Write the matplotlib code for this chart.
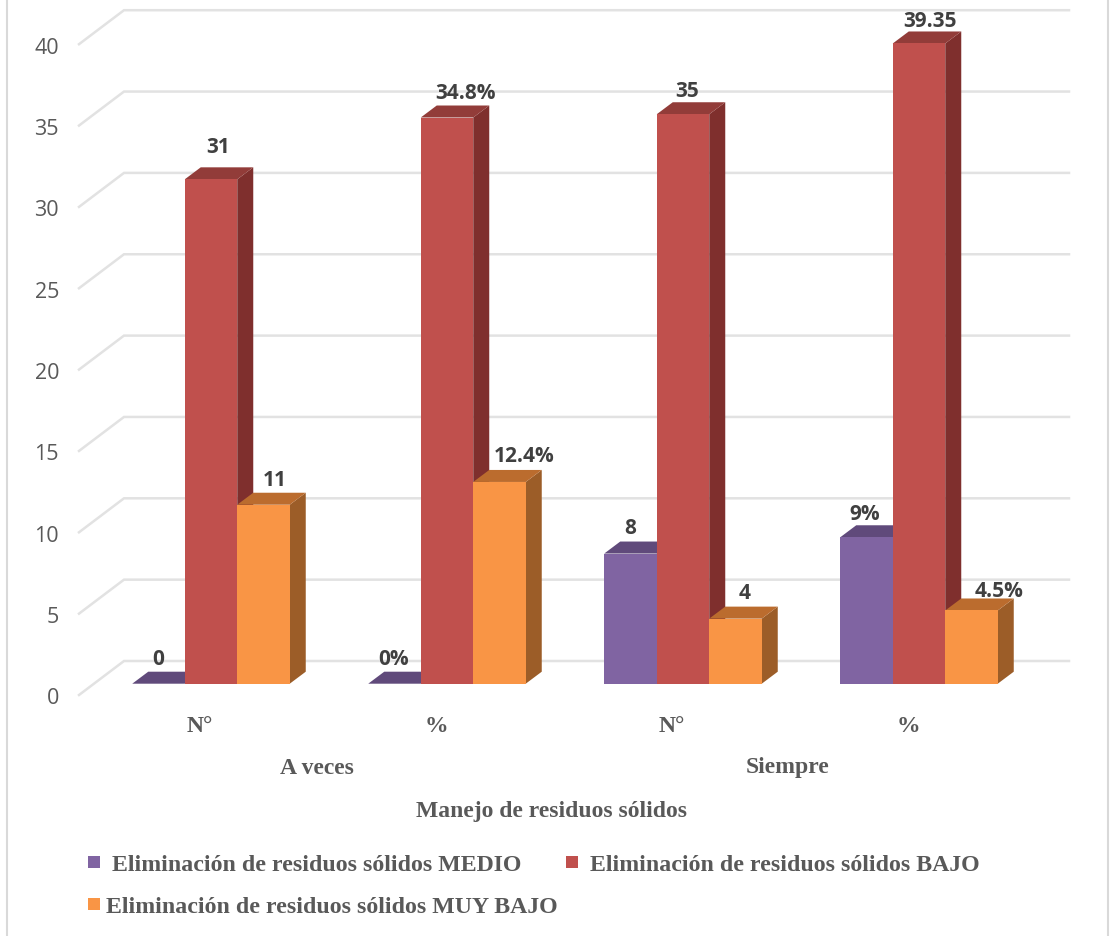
import matplotlib
matplotlib.use("Agg")
import matplotlib.pyplot as plt
from matplotlib.patches import Polygon, Rectangle

# values per category
sub_categories = ["N°", "%", "N°", "%"]
main_categories = ["A veces", "Siempre"]
x_title = "Manejo de residuos sólidos"
medio = [0, 0, 8, 9]
bajo = [31, 34.8, 35, 39.35]
muy_bajo = [11, 12.4, 4, 4.5]
medio_labels = ["0", "0%", "8", "9%"]
bajo_labels = ["31", "34.8%", "35", "39.35"]
muy_bajo_labels = ["11", "12.4%", "4", "4.5%"]
y_ticks = [0, 5, 10, 15, 20, 25, 30, 35, 40]
legend_names = ["Eliminación de residuos sólidos MEDIO",
                "Eliminación de residuos sólidos BAJO",
                "Eliminación de residuos sólidos MUY BAJO"]

W, H = 1112, 937
PX_X = 236.0    # pixels per category
PX_Y = 16.27    # pixels per value unit
X0, Y0 = 211.0, 684.7   # pixel of first category centre / value 0
BAR_W = 52.5 / PX_X
DEPTH_X, DEPTH_Y = 16 / PX_X, 12 / PX_Y
GRID_BACK_X, GRID_BACK_Y = 124, 662
GRID_FRONT_X, GRID_FRONT_Y = 79, 696
GRID_END_X = 1069

TEXT_GRAY = "#595959"
LABEL_GRAY = "#404040"
SERIF = "Liberation Serif"
SANS = "Open Sans"

fig = plt.figure(figsize=(W / 100, H / 100), dpi=100)
ax = fig.add_axes([0, 0, 1, 1])
ax.set_xlim(-X0 / PX_X, (W - X0) / PX_X)
ax.set_ylim((Y0 - H) / PX_Y, Y0 / PX_Y)
ax.axis("off")


def px_x(x):
    return (x - X0) / PX_X


def px_y(y):
    return (Y0 - y) / PX_Y


# floor lines and back wall lines
for t in y_ticks:
    gy_back = px_y(GRID_BACK_Y) + t
    gy_front = px_y(GRID_FRONT_Y) + t
    ax.plot([px_x(GRID_FRONT_X), px_x(GRID_BACK_X), px_x(GRID_END_X)],
            [gy_front, gy_back, gy_back], color="#e2e2e2", lw=1.8, zorder=1,
            solid_joinstyle="miter")
    ax.text(px_x(59), gy_front - 3 / PX_Y, str(t), ha="right", va="center", fontsize=15.5,
            family=SANS, color=TEXT_GRAY)


def draw_bar(x, v, front, top, side, z):
    left, right = x - BAR_W / 2, x + BAR_W / 2
    ax.add_patch(Polygon([(right, 0), (right + DEPTH_X, DEPTH_Y),
                          (right + DEPTH_X, v + DEPTH_Y), (right, v)],
                         fc=side, ec="none", zorder=z))
    ax.add_patch(Polygon([(left, v), (left + DEPTH_X, v + DEPTH_Y),
                          (right + DEPTH_X, v + DEPTH_Y), (right, v)],
                         fc=top, ec="none", zorder=z))
    ax.add_patch(Rectangle((left, 0), BAR_W, v, fc=front, ec="none", zorder=z + 0.1))


series = [
    (medio, medio_labels, "#8064A2", "#604A7B", "#4f3d66", -1, [(0, 25), (-1, 25), (0, 26), (-2, 24)]),
    (bajo, bajo_labels, "#C0504D", "#923C39", "#7F2F2D", 0, [(7, 33), (19, 25), (4, 24), (11, 23)]),
    (muy_bajo, muy_bajo_labels, "#F99545", "#BB6C2E", "#9C5D28", 1, [(11, 25), (25, 26), (9, 26), (28, 20)]),
]

# bars go left to right so the later one hides the side of the earlier one
for i in range(len(sub_categories)):
    for values, labels, front, top, side, pos, shifts in series:
        x = i + pos * BAR_W
        draw_bar(x, values[i], front, top, side, 3 + 0.5 * (pos + 1))
        ax.annotate(labels[i], (x, values[i]), xytext=shifts[i], textcoords="offset pixels",
                    ha="center", va="center", fontsize=15, fontweight="bold", family=SANS,
                    color=LABEL_GRAY, zorder=8)
    ax.text(i - 11 / PX_X, px_y(726), sub_categories[i], ha="center", va="center",
            fontsize=17, fontweight="bold", family=SERIF, color=TEXT_GRAY)

# group labels sit under the middle of each pair
ax.text(px_x(317), px_y(768), main_categories[0], ha="center", va="center", fontsize=17,
        fontweight="bold", family=SERIF, color=TEXT_GRAY)
ax.text(px_x(788), px_y(768), main_categories[1], ha="center", va="center", fontsize=17,
        fontweight="bold", family=SERIF, color=TEXT_GRAY)
ax.text(px_x(552), px_y(812), x_title, ha="center", va="center", fontsize=17,
        fontweight="bold", family=SERIF, color=TEXT_GRAY)

# legend, two rows
legend_items = [(88, 112, 863, "#8064A2", legend_names[0]),
                (566, 590, 863, "#C0504D", legend_names[1]),
                (88, 106, 905, "#F99545", legend_names[2])]
for box_x, text_x, y, color, name in legend_items:
    ax.add_patch(Rectangle((px_x(box_x), px_y(y + 6)), 12 / PX_X, 12 / PX_Y, fc=color, ec="none"))
    ax.text(px_x(text_x), px_y(y + 3), name, ha="left", va="center", fontsize=17.2,
            fontweight="bold", family=SERIF, color=TEXT_GRAY)

# chart frame
for frame_x in (7, 1108):
    ax.plot([px_x(frame_x)] * 2, [px_y(0), px_y(H)], color="#d9d9d9", lw=1.5)

fig.savefig("out.png", dpi=100)
